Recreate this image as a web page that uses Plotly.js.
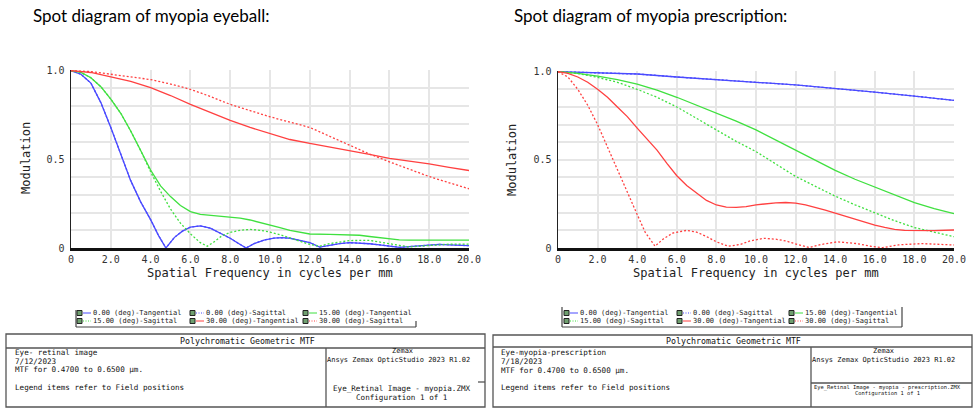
<!DOCTYPE html>
<html><head><meta charset="utf-8">
<script src="https://cdn.plot.ly/plotly-3.0.1.min.js"></script>
<style>html,body{margin:0;padding:0;background:#fff;}#chart{width:975px;height:415px;}</style>
</head><body><div id="chart"></div>
<script>
// ---------- data ----------
const seriesNames = ["0.00 (deg)-Tangential","0.00 (deg)-Sagittal","15.00 (deg)-Tangential","15.00 (deg)-Sagittal","30.00 (deg)-Tangential","30.00 (deg)-Sagittal"];
const freqTicks = [0,2,4,6,8,10,12,14,16,18,20];
const freqTickText = ["0","2.0","4.0","6.0","8.0","10.0","12.0","14.0","16.0","18.0","20.0"];
const modTicks = [0,0.1,0.2,0.3,0.4,0.5,0.6,0.7,0.8,0.9,1.0];
const modTickText = ["0","","","","","0.5","","","","","1.0"];

// Left chart: myopia eyeball
const eyeFreq0 = [0,0.5,1,1.5,2,2.5,3,3.5,4,4.4,4.77,5.2,5.6,6,6.5,7,7.5,8,8.4,8.8,9.2,9.7,10.2,10.6,11,11.5,12,12.5,13,13.5,14,14.5,15,15.5,16,16.5,17,17.5,18,18.5,19,19.5,20];
const eyeMod0T = [1,0.98,0.93,0.82,0.68,0.53,0.38,0.26,0.16,0.07,0.0,0.06,0.095,0.118,0.125,0.112,0.085,0.055,0.027,0.0,0.025,0.045,0.056,0.058,0.055,0.042,0.03,0.005,0.015,0.025,0.03,0.028,0.024,0.018,0.01,0.004,0.008,0.013,0.017,0.02,0.018,0.015,0.013];
const eyeMod0S = [1,0.98,0.93,0.82,0.68,0.53,0.38,0.26,0.16,0.07,0.0,0.06,0.095,0.118,0.125,0.112,0.085,0.055,0.027,0.0,0.025,0.045,0.056,0.058,0.055,0.042,0.03,0.005,0.015,0.025,0.03,0.028,0.024,0.018,0.01,0.004,0.008,0.013,0.017,0.02,0.018,0.015,0.013];
const eyeFreq15T = [0,0.5,1,1.5,2,2.5,3,3.5,4,4.5,5,5.5,6,6.5,7,7.5,8,8.5,9,9.5,10,10.5,11,11.5,12,13,14,14.5,15,15.5,16,16.5,17,18,19,20];
const eyeMod15T = [1,0.99,0.96,0.91,0.84,0.76,0.66,0.55,0.44,0.35,0.29,0.24,0.205,0.19,0.185,0.18,0.175,0.168,0.158,0.145,0.13,0.115,0.1,0.088,0.079,0.077,0.076,0.072,0.065,0.058,0.052,0.046,0.044,0.044,0.044,0.044];
const eyeFreq15S = [0,0.5,1,1.5,2,2.5,3,3.5,4,4.5,5,5.5,6,6.5,6.85,7.2,7.6,8,8.5,9,9.5,10,10.5,11,11.5,12,12.5,13,13.5,14,15,15.5,16,16.5,17,17.5,18,18.5,19,20];
const eyeMod15S = [1,0.99,0.96,0.91,0.84,0.76,0.66,0.55,0.43,0.32,0.22,0.14,0.08,0.03,0.01,0.035,0.07,0.088,0.1,0.105,0.1,0.09,0.075,0.055,0.038,0.02,0.01,0.025,0.035,0.042,0.043,0.035,0.025,0.015,0.006,0.01,0.015,0.02,0.022,0.022];
const eyeFreq30 = [0,1,2,3,4,5,6,7,8,9,10,11,12,13,14,15,16,17,18,19,20];
const eyeMod30T = [1,0.99,0.965,0.94,0.905,0.86,0.81,0.765,0.72,0.68,0.645,0.612,0.59,0.57,0.55,0.528,0.505,0.49,0.475,0.455,0.437];
const eyeMod30S = [1,0.995,0.98,0.965,0.95,0.925,0.895,0.855,0.81,0.775,0.74,0.71,0.68,0.63,0.578,0.53,0.486,0.445,0.403,0.368,0.334];

// Right chart: myopia prescription
const rxFreq0 = [0,2,4,6,8,10,12,14,16,18,20];
const rxMod0T = [1,0.994,0.987,0.97,0.953,0.94,0.925,0.906,0.884,0.862,0.837];
const rxMod0S = [1,0.994,0.987,0.97,0.953,0.94,0.925,0.906,0.884,0.862,0.837];
const rxFreq15 = [0,1,2,3,4,5,6,7,8,9,10,11,12,13,14,15,16,17,18,19,20];
const rxMod15T = [1,0.99,0.975,0.955,0.93,0.895,0.855,0.81,0.765,0.72,0.67,0.613,0.556,0.497,0.44,0.39,0.346,0.3,0.257,0.223,0.195];
const rxMod15S = [1,0.99,0.968,0.94,0.9,0.855,0.8,0.735,0.67,0.605,0.547,0.475,0.406,0.35,0.294,0.245,0.198,0.155,0.116,0.088,0.064];
const rxFreq30T = [0,0.5,1,1.5,2,2.5,3,3.5,4,4.5,5,5.5,6,6.5,7,7.5,8,8.5,9,9.5,10,10.5,11,11.5,12,12.5,13,13.5,14,14.5,15,15.5,16,16.5,17,17.5,18,19,20];
const rxMod30T = [1,0.99,0.97,0.94,0.9,0.855,0.8,0.745,0.68,0.615,0.555,0.48,0.41,0.355,0.31,0.27,0.244,0.232,0.23,0.235,0.245,0.252,0.256,0.258,0.254,0.245,0.232,0.215,0.198,0.18,0.162,0.145,0.13,0.117,0.106,0.1,0.099,0.099,0.102];
const rxFreq30S = [0,0.5,1,1.5,2,2.5,3,3.5,4,4.4,4.9,5.3,5.8,6.5,7,7.5,8,8.6,9.2,9.7,10.4,11,11.5,12.1,12.7,13.3,14.1,15.1,15.8,16.4,17.2,18.4,19.2,20];
const rxMod30S = [1,0.97,0.9,0.81,0.7,0.57,0.44,0.32,0.19,0.09,0.01,0.05,0.085,0.1,0.09,0.065,0.035,0.01,0.02,0.04,0.055,0.05,0.04,0.02,0.003,0.02,0.035,0.025,0.01,0.002,0.018,0.025,0.022,0.017];

// ---------- styles ----------
const colors = ["#4a4aff","#4a4aff","#3fe03f","#3fe03f","#ff4040","#ff4040"];
const dashes = ["solid","2px,2px","solid","2px,2px","solid","2px,2px"];

const W = 975, H = 415;
const px = x => x / W;
const py = y => 1 - y / H;

const eyeX = [eyeFreq0, eyeFreq0, eyeFreq15T, eyeFreq15S, eyeFreq30, eyeFreq30];
const eyeY = [eyeMod0T, eyeMod0S, eyeMod15T, eyeMod15S, eyeMod30T, eyeMod30S];
const rxX = [rxFreq0, rxFreq0, rxFreq15, rxFreq15, rxFreq30T, rxFreq30S];
const rxY = [rxMod0T, rxMod0S, rxMod15T, rxMod15S, rxMod30T, rxMod30S];

const order = [1,0,2,3,4,5];
const traces = [];
order.forEach(i => {
  traces.push({x: eyeX[i], y: eyeY[i], type:"scatter", mode:"lines", name: seriesNames[i],
    line:{color:colors[i], width:1.3, dash:dashes[i]}, xaxis:"x", yaxis:"y", showlegend:false, hoverinfo:"skip"});
});
order.forEach(i => {
  traces.push({x: rxX[i], y: rxY[i], type:"scatter", mode:"lines", name: seriesNames[i],
    line:{color:colors[i], width:1.3, dash:dashes[i]}, xaxis:"x2", yaxis:"y2", showlegend:false, hoverinfo:"skip"});
});

const mono = "DejaVu Sans Mono";
function xAx(dom, anchor){
  return {domain: dom, anchor: anchor, range:[0,20], tickmode:"array", tickvals:freqTicks, ticktext:freqTickText,
    showgrid:true, gridcolor:"#e6e6e6", gridwidth:2, zeroline:false, showline:true, linecolor:"#111", linewidth:2.5,
    ticks:"", tickfont:{family:mono, size:10, color:"#333"}, fixedrange:true};
}
function yAx(dom, anchor){
  return {domain: dom, anchor: anchor, range:[0,1.004], tickmode:"array", tickvals:modTicks, ticktext:modTickText,
    showgrid:true, gridcolor:"#e6e6e6", gridwidth:2, zeroline:false, showline:true, linecolor:"#222", linewidth:1.5,
    ticks:"", ticklabelstandoff:3, tickfont:{family:mono, size:10, color:"#333"}, fixedrange:true};
}

const annotations = [];
const shapes = [];
function txt(t, x, y, size, xanchor, family, color, extra){
  annotations.push(Object.assign({text:t, x:px(x), y:py(y), xref:"paper", yref:"paper", showarrow:false,
    xanchor:xanchor||"left", yanchor:"middle", font:{family:family||mono, size:size, color:color||"#111"}}, extra||{}));
}
function line(x0,y0,x1,y1,color,width,dash){
  shapes.push({type:"line", xref:"paper", yref:"paper", x0:px(x0), y0:py(y0), x1:px(x1), y1:py(y1),
    line:{color:color||"#444", width:width||1.2, dash:dash||"solid"}});
}
function rect(x0,y0,x1,y1,lc,fill,w){
  shapes.push({type:"rect", xref:"paper", yref:"paper", x0:px(x0), y0:py(y0), x1:px(x1), y1:py(y1),
    line:{color:lc, width:w||1}, fillcolor:fill||"rgba(0,0,0,0)"});
}

// titles
txt("Spot diagram of myopia eyeball:", 31, 15, 17, "left", "Lato", "#000");
txt("Spot diagram of myopia prescription:", 512, 15, 17, "left", "Lato", "#000");
// axis titles
txt("Spatial Frequency in cycles per mm", 270, 273, 12, "center", mono, "#222");
txt("Spatial Frequency in cycles per mm", 756, 273, 12, "center", mono, "#222");
txt("Modulation", 26, 158, 12, "center", mono, "#222", {textangle:-90});
txt("Modulation", 512, 160, 12, "center", mono, "#222", {textangle:-90});

// legends
const legendOrder = [0,1,2,3,4,5];
function legendBlock(cols, rows){
  legendOrder.forEach((si, k) => {
    const cx = cols[k % 3], cy = rows[Math.floor(k / 3)];
    rect(cx, cy-2.5, cx+5, cy+2.5, "#222", "#6f9f6f", 1);
    line(cx+6, cy, cx+14, cy, colors[si], 1, dashes[si] === "solid" ? "solid" : "1px,1.5px");
    txt(seriesNames[si], cx+14, cy, 7, "left", mono, "#222");
  });
}
legendBlock([77,190,303],[313,321]);
legendBlock([564,677,789],[313,321]);
// legend frames
line(76,310,76,327,"#444",1.2); line(76,327,416,327,"#444",1.2); line(416,321,416,327,"#444",1.2);
line(562,307,562,327,"#444",1.2); line(562,327,902,327,"#444",1.2); line(902,307,902,327,"#444",1.2);

// info tables
rect(6,334,485,407,"#555","rgba(0,0,0,0)",1.3);
line(6,348,485,348,"#555",1.3);
line(326,348,326,407,"#555",1.3);
line(478,382,485,382,"#555",1.3);
txt("Polychromatic Geometric MTF", 247, 341, 8.3, "center");
txt("Eye- retinal image", 13, 352.5, 7.6);
txt("7/12/2023", 13, 361, 7.6);
txt("MTF for 0.4700 to 0.6500 µm.", 13, 369.5, 7.6);
txt("Legend items refer to Field positions", 13, 387.5, 7.6);
txt("Zemax", 402, 351, 7, "center");
txt("Ansys Zemax OpticStudio 2023 R1.02", 398, 360, 7, "center");
txt("Eye_Retinal Image - myopia.ZMX", 402, 388.5, 7.6, "center");
txt("Configuration 1 of 1", 402, 397.5, 7.6, "center");

rect(493,335,972,407,"#555","rgba(0,0,0,0)",1.3);
line(493,347,972,347,"#555",1.3);
line(811,347,811,407,"#555",1.3);
line(811,383,972,383,"#555",1.3);
txt("Polychromatic Geometric MTF", 733, 341, 8.3, "center");
txt("Eye-myopia-prescription", 499, 352.5, 7.6);
txt("7/18/2023", 499, 361, 7.6);
txt("MTF for 0.4700 to 0.6500 µm.", 499, 370, 7.6);
txt("Legend items refer to Field positions", 499, 387.5, 7.6);
txt("Zemax", 883, 351, 7, "center");
txt("Ansys Zemax OpticStudio 2023 R1.02", 883, 360, 7, "center");
txt("Eye_Retinal Image - myopia - prescription.ZMX", 887, 387.5, 5.4, "center");
txt("Configuration 1 of 1", 887, 393.5, 5.4, "center");

const layout = {
  width: W, height: H, margin:{l:0,r:0,t:0,b:0}, paper_bgcolor:"#fff", plot_bgcolor:"#fff",
  showlegend:false, hovermode:false,
  xaxis: xAx([px(71), px(469)], "y"),
  yaxis: yAx([py(248), py(70)], "x"),
  xaxis2: xAx([px(558), px(954)], "y2"),
  yaxis2: yAx([py(248), py(71)], "x2"),
  annotations: annotations, shapes: shapes
};
Plotly.newPlot("chart", traces, layout, {staticPlot:true, displayModeBar:false});
</script>
</body></html>
